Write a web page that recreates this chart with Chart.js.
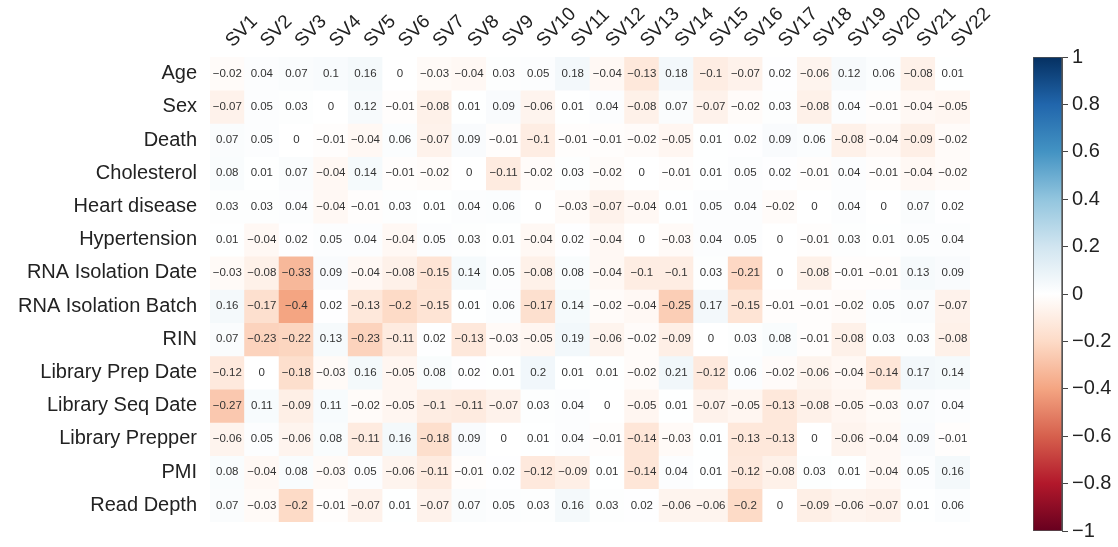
<!DOCTYPE html>
<html>
<head>
<meta charset="utf-8">
<script src="https://cdn.jsdelivr.net/npm/chart.js@4.4.1/dist/chart.umd.min.js"></script>
<style>
  body { margin: 0; background: #fff; }
  #wrap { position: relative; width: 1118px; height: 547px; }
  #heatmap { position: absolute; left: 0; top: 0; }
  #colorbar { position: absolute; left: 1000px; top: 0; }
</style>
</head>
<body>
<div id="wrap">
  <canvas id="heatmap" width="1000" height="547"></canvas>
  <canvas id="colorbar" width="118" height="547"></canvas>
</div>
<script>
// surrogate variables (columns) and covariates (rows)
const svLabels = ['SV1', 'SV2', 'SV3', 'SV4', 'SV5', 'SV6', 'SV7', 'SV8', 'SV9', 'SV10', 'SV11',
                  'SV12', 'SV13', 'SV14', 'SV15', 'SV16', 'SV17', 'SV18', 'SV19', 'SV20', 'SV21', 'SV22'];
const rowLabels = ['Age', 'Sex', 'Death', 'Cholesterol', 'Heart disease', 'Hypertension',
                   'RNA Isolation Date', 'RNA Isolation Batch', 'RIN', 'Library Prep Date',
                   'Library Seq Date', 'Library Prepper', 'PMI', 'Read Depth'];

const age          = [-0.02, 0.04, 0.07, 0.1, 0.16, 0, -0.03, -0.04, 0.03, 0.05, 0.18, -0.04, -0.13, 0.18, -0.1, -0.07, 0.02, -0.06, 0.12, 0.06, -0.08, 0.01];
const sex          = [-0.07, 0.05, 0.03, 0, 0.12, -0.01, -0.08, 0.01, 0.09, -0.06, 0.01, 0.04, -0.08, 0.07, -0.07, -0.02, 0.03, -0.08, 0.04, -0.01, -0.04, -0.05];
const death        = [0.07, 0.05, 0, -0.01, -0.04, 0.06, -0.07, 0.09, -0.01, -0.1, -0.01, -0.01, -0.02, -0.05, 0.01, 0.02, 0.09, 0.06, -0.08, -0.04, -0.09, -0.02];
const cholesterol  = [0.08, 0.01, 0.07, -0.04, 0.14, -0.01, -0.02, 0, -0.11, -0.02, 0.03, -0.02, 0, -0.01, 0.01, 0.05, 0.02, -0.01, 0.04, -0.01, -0.04, -0.02];
const heartDisease = [0.03, 0.03, 0.04, -0.04, -0.01, 0.03, 0.01, 0.04, 0.06, 0, -0.03, -0.07, -0.04, 0.01, 0.05, 0.04, -0.02, 0, 0.04, 0, 0.07, 0.02];
const hypertension = [0.01, -0.04, 0.02, 0.05, 0.04, -0.04, 0.05, 0.03, 0.01, -0.04, 0.02, -0.04, 0, -0.03, 0.04, 0.05, 0, -0.01, 0.03, 0.01, 0.05, 0.04];
const rnaIsoDate   = [-0.03, -0.08, -0.33, 0.09, -0.04, -0.08, -0.15, 0.14, 0.05, -0.08, 0.08, -0.04, -0.1, -0.1, 0.03, -0.21, 0, -0.08, -0.01, -0.01, 0.13, 0.09];
const rnaIsoBatch  = [0.16, -0.17, -0.4, 0.02, -0.13, -0.2, -0.15, 0.01, 0.06, -0.17, 0.14, -0.02, -0.04, -0.25, 0.17, -0.15, -0.01, -0.01, -0.02, 0.05, 0.07, -0.07];
const rin          = [0.07, -0.23, -0.22, 0.13, -0.23, -0.11, 0.02, -0.13, -0.03, -0.05, 0.19, -0.06, -0.02, -0.09, 0, 0.03, 0.08, -0.01, -0.08, 0.03, 0.03, -0.08];
const libPrepDate  = [-0.12, 0, -0.18, -0.03, 0.16, -0.05, 0.08, 0.02, 0.01, 0.2, 0.01, 0.01, -0.02, 0.21, -0.12, 0.06, -0.02, -0.06, -0.04, -0.14, 0.17, 0.14];
const libSeqDate   = [-0.27, 0.11, -0.09, 0.11, -0.02, -0.05, -0.1, -0.11, -0.07, 0.03, 0.04, 0, -0.05, 0.01, -0.07, -0.05, -0.13, -0.08, -0.05, -0.03, 0.07, 0.04];
const libPrepper   = [-0.06, 0.05, -0.06, 0.08, -0.11, 0.16, -0.18, 0.09, 0, 0.01, 0.04, -0.01, -0.14, -0.03, 0.01, -0.13, -0.13, 0, -0.06, -0.04, 0.09, -0.01];
const pmi          = [0.08, -0.04, 0.08, -0.03, 0.05, -0.06, -0.11, -0.01, 0.02, -0.12, -0.09, 0.01, -0.14, 0.04, 0.01, -0.12, -0.08, 0.03, 0.01, -0.04, 0.05, 0.16];
const readDepth    = [0.07, -0.03, -0.2, -0.01, -0.07, 0.01, -0.07, 0.07, 0.05, 0.03, 0.16, 0.03, 0.02, -0.06, -0.06, -0.2, 0, -0.09, -0.06, -0.07, 0.01, 0.06];

const corrRows = [age, sex, death, cholesterol, heartDisease, hypertension, rnaIsoDate,
                  rnaIsoBatch, rin, libPrepDate, libSeqDate, libPrepper, pmi, readDepth];

const colorbarTicks = [-1, -0.8, -0.6, -0.4, -0.2, 0, 0.2, 0.4, 0.6, 0.8, 1];

// RdBu palette, -1 .. 1 in steps of 0.2
const rdbu = ['#67001F', '#B2182B', '#D6604D', '#F4A582', '#FDDBC7', '#FFFFFF',
              '#D1E5F0', '#92C5DE', '#4393C3', '#2166AC', '#053061'];

const labelFont = '"Liberation Sans", Arial, sans-serif';

function hexToRgb(h) {
    return [1, 3, 5].map(i => parseInt(h.substr(i, 2), 16));
}

function paletteAt(v) {
    let t = (v + 1) / 2 * (rdbu.length - 1);
    let i = Math.min(Math.floor(t), rdbu.length - 2);
    let f = t - i;
    let a = hexToRgb(rdbu[i]), b = hexToRgb(rdbu[i + 1]);
    let c = a.map((x, k) => Math.round(x + (b[k] - x) * f));
    return 'rgb(' + c.join(',') + ')';
}

// positive cells are only faintly tinted
function cellColor(v) {
    return paletteAt(v > 0 ? v * 0.3 : v);
}

function fmt(v) {
    return String(v).replace('-', '\u2212');
}

// write the coefficient in the middle of every cell
const cellText = {
    id: 'cellText',
    afterDatasetsDraw(chart) {
        const ctx = chart.ctx;
        ctx.save();
        ctx.font = '11.5px ' + labelFont;
        ctx.fillStyle = '#333';
        ctx.textAlign = 'center';
        ctx.textBaseline = 'middle';
        chart.data.datasets.forEach((ds, r) => {
            chart.getDatasetMeta(r).data.forEach((bar, c) => {
                ctx.fillText(fmt(corrRows[r][c]), bar.x, (bar.y + bar.base) / 2);
            });
        });
        ctx.restore();
    }
};

// one floating-bar dataset per row, bars span [row, row + 1]
const datasets = corrRows.map((row, r) => ({
    label: rowLabels[r],
    data: row.map(() => [r, r + 1]),
    backgroundColor: row.map(cellColor),
    borderWidth: 0,
    grouped: false,
    barPercentage: 1,
    categoryPercentage: 1
}));

new Chart(document.getElementById('heatmap'), {
    type: 'bar',
    data: { labels: svLabels, datasets: datasets },
    options: {
        responsive: false,
        animation: false,
        events: [],
        layout: { padding: { right: 30, bottom: 7 } },
        plugins: { legend: { display: false }, tooltip: { enabled: false } },
        scales: {
            x: {
                position: 'top',
                grid: { display: false, drawTicks: false },
                border: { display: false },
                ticks: {
                    autoSkip: false,
                    minRotation: 45, maxRotation: 45,
                    padding: 5, labelOffset: 18,
                    color: '#222', font: { family: labelFont, size: 19 }
                },
                afterFit: s => { s.height = 57; }
            },
            y: {
                type: 'linear',
                reverse: true,
                min: 0,
                max: corrRows.length,
                grid: { display: false, drawTicks: false },
                border: { display: false },
                afterBuildTicks: s => { s.ticks = rowLabels.map((_, i) => ({ value: i + 0.5 })); },
                ticks: {
                    padding: 13,
                    color: '#222', font: { family: labelFont, size: 20 },
                    callback: v => rowLabels[Math.floor(v)]
                },
                afterFit: s => { s.width = 210; }
            }
        }
    },
    plugins: [cellText]
});

// colour key
new Chart(document.getElementById('colorbar'), {
    type: 'bar',
    data: {
        labels: [''],
        datasets: [{
            data: [[-1, 1]],
            backgroundColor(ctx) {
                const area = ctx.chart.chartArea;
                if (!area) return '#fff';
                const g = ctx.chart.ctx.createLinearGradient(0, area.bottom, 0, area.top);
                rdbu.forEach((c, i) => g.addColorStop(i / (rdbu.length - 1), c));
                return g;
            },
            borderColor: '#555',
            borderWidth: 1,
            borderSkipped: false,
            barPercentage: 1,
            categoryPercentage: 1
        }]
    },
    options: {
        responsive: false,
        animation: false,
        events: [],
        layout: { padding: { left: 33, top: 57, bottom: 9 } },
        plugins: { legend: { display: false }, tooltip: { enabled: false } },
        scales: {
            x: { display: false },
            y: {
                position: 'right',
                min: -1,
                max: 1,
                afterBuildTicks: s => { s.ticks = colorbarTicks.map(v => ({ value: v })); },
                grid: { drawOnChartArea: false, tickLength: 6, color: '#444' },
                border: { display: true, color: '#555' },
                ticks: {
                    padding: 4,
                    color: '#222', font: { family: labelFont, size: 20 },
                    callback: v => fmt(Math.round(v * 10) / 10)
                },
                afterFit: s => { s.width = 56; }
            }
        }
    }
});
</script>
</body>
</html>
